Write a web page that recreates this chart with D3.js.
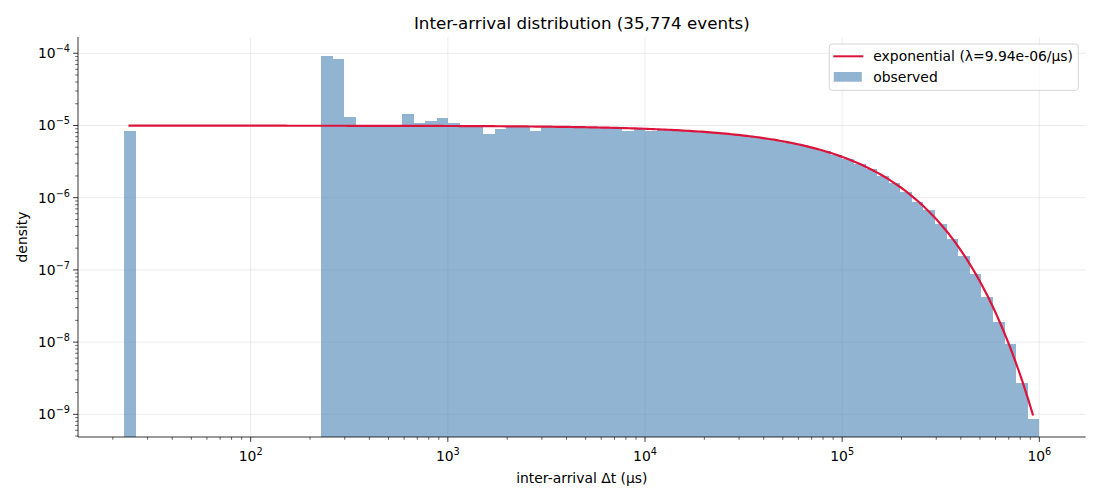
<!DOCTYPE html>
<html>
<head>
<meta charset="utf-8">
<script src="https://cdn.jsdelivr.net/npm/d3@7"></script>
<style>
  body { margin: 0; background: #fff; }
  text { font-family: "DejaVu Sans", sans-serif; fill: #000; }
</style>
</head>
<body>
<div id="root"></div>
<script>
// histogram bins: log-spaced from lo to hi
var binLo = 22.8
var binHi = 1.0e6
var nBins = 79

// observed density per bin (0 = empty bin)
var density = [
  8.4e-6, 0, 0, 0, 0, 0, 0, 0, 0, 0, 0, 0, 0, 0, 0, 0, 0,
  9.18e-5, 8.34e-5, 1.31e-5, 1.0e-5, 9.9e-6, 1.01e-5, 9.8e-6, 1.44e-5,
  1.08e-5, 1.15e-5, 1.27e-5, 1.08e-5, 9.8e-6, 9.7e-6, 7.6e-6, 8.9e-6,
  9.5e-6, 9.6e-6, 8.5e-6, 9.6e-6, 9.5e-6, 9.5e-6, 9.4e-6, 9.4e-6,
  9.3e-6, 9.2e-6, 8.5e-6, 8.9e-6, 8.3e-6, 8.75e-6, 8.6e-6, 8.45e-6,
  8.25e-6, 8.0e-6, 7.8e-6, 7.5e-6, 7.2e-6, 6.9e-6, 6.55e-6, 6.15e-6,
  5.75e-6, 5.3e-6, 4.83e-6, 4.4e-6, 3.9e-6, 3.4e-6, 2.9e-6, 2.5e-6,
  2.0e-6, 1.58e-6, 1.20e-6, 8.7e-7, 6.8e-7, 4.3e-7, 2.7e-7, 1.56e-7,
  8.8e-8, 4.2e-8, 1.9e-8, 9.4e-9, 2.7e-9, 8.6e-10
]

// fitted exponential
var lambda = 9.94e-6
var fitRange = [24, 9.3e5]

var xTickExp = [2, 3, 4, 5, 6]
var yTickExp = [-9, -8, -7, -6, -5, -4]

var titleText = "Inter-arrival distribution (35,774 events)"
var xLabel = "inter-arrival Δt (μs)"
var yLabel = "density"
var legendLabels = ["exponential (λ=9.94e-06/μs)", "observed"]

// set the dimensions and margins of the graph
var W = 1100, H = 500
var margin = {top: 37, right: 14.3, bottom: 63, left: 78}
var width = W - margin.left - margin.right
var height = H - margin.top - margin.bottom

var svg = d3.select("#root")
            .append("svg")
            .attr("width", W)
            .attr("height", H)

var g = svg.append("g")
           .attr("transform", "translate(" + margin.left + "," + margin.top + ")")

var x = d3.scaleLog().domain([13.31, 1.719e6]).range([0, width])
var y = d3.scaleLog().domain([4.848e-10, 1.681e-4]).range([height, 0])

// minor tick values (2..9 per decade) inside the domain
function minorTicks(scale, e0, e1) {
  var out = []
  var dom = scale.domain()
  for (var e = e0; e <= e1; e++) {
    for (var m = 1; m < 10; m++) {
      var v = m * Math.pow(10, e)
      if (v >= dom[0] && v <= dom[1]) out.push({v: v, major: m == 1})
    }
  }
  return out
}

// grid
g.selectAll(".gx").data(xTickExp).enter().append("line")
  .attr("x1", function(d){ return x(Math.pow(10, d)) })
  .attr("x2", function(d){ return x(Math.pow(10, d)) })
  .attr("y1", 0).attr("y2", height)
  .attr("stroke", "#b0b0b0").attr("stroke-opacity", 0.3).attr("stroke-width", 0.8)
g.selectAll(".gy").data(yTickExp).enter().append("line")
  .attr("x1", 0).attr("x2", width)
  .attr("y1", function(d){ return y(Math.pow(10, d)) })
  .attr("y2", function(d){ return y(Math.pow(10, d)) })
  .attr("stroke", "#b0b0b0").attr("stroke-opacity", 0.3).attr("stroke-width", 0.8)

// bins
var edges = d3.range(nBins + 1).map(function(i){ return binLo * Math.pow(binHi / binLo, i / nBins) })
var bins = density.map(function(d, i){ return {x0: edges[i], x1: edges[i + 1], v: d} })
                  .filter(function(b){ return b.v > 0 })

g.append("g")
  .attr("shape-rendering", "crispEdges")
  .selectAll(".bar").data(bins).enter().append("rect")
  .attr("x", function(d){ return x(d.x0) })
  .attr("width", function(d){ return x(d.x1) - x(d.x0) })
  .attr("y", function(d){ return y(d.v) })
  .attr("height", function(d){ return height - y(d.v) })
  .attr("fill", "steelblue")
  .attr("fill-opacity", 0.6)

// exponential fit line
var fitX = d3.range(301).map(function(i){
  return fitRange[0] * Math.pow(fitRange[1] / fitRange[0], i / 300)
})
var line = d3.line()
  .x(function(d){ return x(d) })
  .y(function(d){ return y(lambda * Math.exp(-lambda * d)) })
g.append("path")
  .datum(fitX)
  .attr("d", line)
  .attr("fill", "none")
  .attr("stroke", "crimson")
  .attr("stroke-width", 2.2)

// spines
g.append("line").attr("x1", 0).attr("x2", 0).attr("y1", 0).attr("y2", height)
  .attr("stroke", "#000").attr("stroke-width", 0.8)
g.append("line").attr("x1", 0).attr("x2", width).attr("y1", height).attr("y2", height)
  .attr("stroke", "#000").attr("stroke-width", 0.8)

// x ticks
g.selectAll(".tx").data(minorTicks(x, 1, 6)).enter().append("line")
  .attr("x1", function(d){ return x(d.v) })
  .attr("x2", function(d){ return x(d.v) })
  .attr("y1", height)
  .attr("y2", function(d){ return height + (d.major ? 4.9 : 2.8) })
  .attr("stroke", "#000").attr("stroke-width", function(d){ return d.major ? 0.8 : 0.6 })

var xl = g.selectAll(".xl").data(xTickExp).enter().append("text")
  .attr("x", function(d){ return x(Math.pow(10, d)) })
  .attr("y", height + 24)
  .attr("text-anchor", "middle")
  .style("font-size", "13.9px")
xl.append("tspan").text("10")
xl.append("tspan").attr("dy", -6).style("font-size", "9.7px").text(function(d){ return d })

// y ticks
g.selectAll(".ty").data(minorTicks(y, -10, -4)).enter().append("line")
  .attr("x1", function(d){ return d.major ? -4.9 : -2.8 })
  .attr("x2", 0)
  .attr("y1", function(d){ return y(d.v) })
  .attr("y2", function(d){ return y(d.v) })
  .attr("stroke", "#000").attr("stroke-width", function(d){ return d.major ? 0.8 : 0.6 })

var yl = g.selectAll(".yl").data(yTickExp).enter().append("text")
  .attr("x", -8)
  .attr("y", function(d){ return y(Math.pow(10, d)) + 5 })
  .attr("text-anchor", "end")
  .style("font-size", "13.9px")
yl.append("tspan").text("10")
yl.append("tspan").attr("dy", -6).style("font-size", "9.7px").text(function(d){ return "\u2212" + Math.abs(d) })

// axis labels and title
svg.append("text")
  .attr("x", margin.left + width / 2).attr("y", 483)
  .attr("text-anchor", "middle").style("font-size", "13.9px")
  .text(xLabel)
svg.append("text")
  .attr("transform", "translate(27," + (margin.top + height / 2) + ") rotate(-90)")
  .attr("text-anchor", "middle").style("font-size", "13.9px")
  .text(yLabel)
svg.append("text")
  .attr("x", margin.left + width / 2).attr("y", 28.5)
  .attr("text-anchor", "middle").style("font-size", "16.7px")
  .text(titleText)

// legend
var lg = svg.append("g").attr("transform", "translate(829.3,44)")
lg.append("rect")
  .attr("width", 249).attr("height", 46.3).attr("rx", 3)
  .attr("fill", "#fff").attr("fill-opacity", 0.8)
  .attr("stroke", "#cccccc").attr("stroke-width", 0.8)
lg.append("line").attr("x1", 4).attr("x2", 34).attr("y1", 12.3).attr("y2", 12.3)
  .attr("stroke", "crimson").attr("stroke-width", 2)
lg.append("rect").attr("x", 4.5).attr("y", 28).attr("width", 28).attr("height", 9.7)
  .attr("fill", "steelblue").attr("fill-opacity", 0.6)
lg.selectAll(".lt").data(legendLabels).enter().append("text")
  .attr("x", 44).attr("y", function(d, i){ return 17.3 + i * 20.3 })
  .style("font-size", "13.9px")
  .text(function(d){ return d })
</script>
</body>
</html>
